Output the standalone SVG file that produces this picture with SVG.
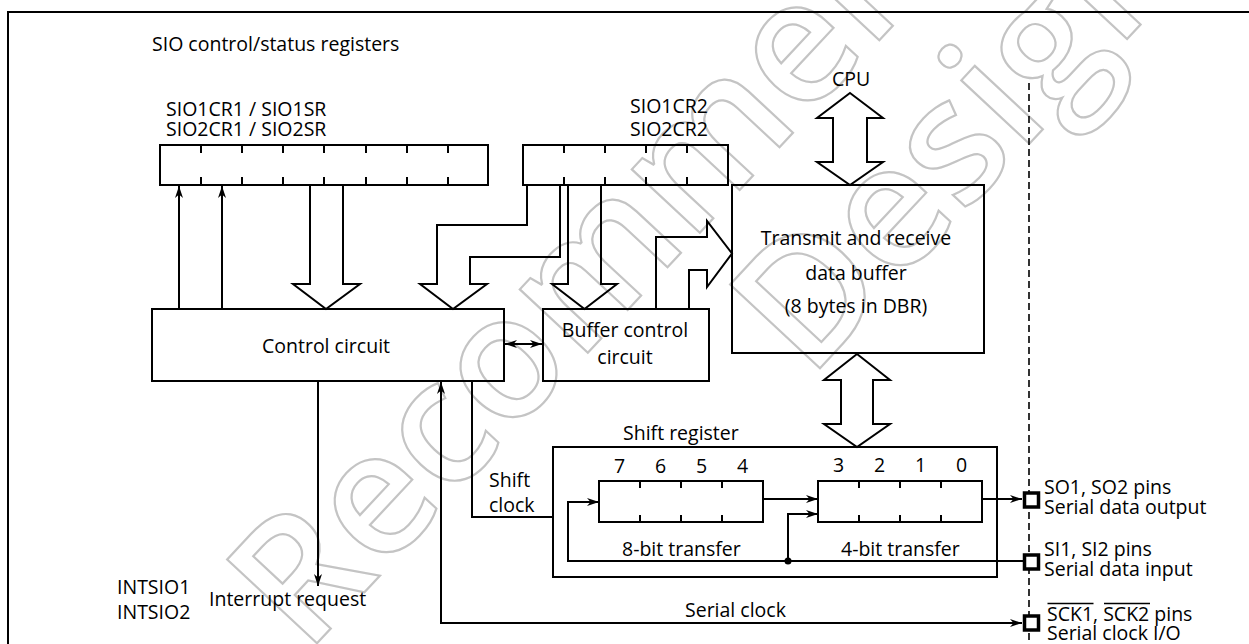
<svg xmlns="http://www.w3.org/2000/svg" width="1249" height="644" viewBox="0 0 1249 644">
<style>
text{font-family:"Open Sans","Noto Sans","DejaVu Sans",sans-serif;font-size:19.5px;fill:#000}
.m{text-anchor:middle}
.ln{fill:none;stroke:#000;stroke-width:2}
.wm{font-family:"Open Sans","Noto Sans",sans-serif;font-size:172px;font-weight:600;fill:none;stroke:#c4c4c4;stroke-width:2.2}
.pin{fill:#fff;stroke:#000;stroke-width:3.5}
</style>
<defs>
<marker id="ah" viewBox="0 0 12 8" refX="12" refY="4" markerWidth="12" markerHeight="8" markerUnits="userSpaceOnUse" orient="auto-start-reverse"><path d="M0,0 L12,4 L0,8 L3.5,4 z" fill="#000"/></marker>
</defs>
<rect width="1249" height="644" fill="#fff"/>
<g id="watermark">
<text class="wm" transform="translate(306,655) rotate(-47)">Recommended</text>
<text class="wm" transform="translate(809,380) rotate(-47)">Design</text>
</g>
<rect id="frame" x="8" y="12" width="1300" height="700" class="ln"/>
<text x="152" y="51">SIO control/status registers</text>
<g id="reg1">
<text x="166" y="116">SIO1CR1 / SIO1SR</text>
<text x="166" y="136">SIO2CR1 / SIO2SR</text>
<rect x="160" y="145" width="328" height="40" class="ln"/>
<path class="ln" d="M201,145v8M242,145v8M283,145v8M324,145v8M366,145v8M407,145v8M448,145v8M201,185v-8M242,185v-8M283,185v-8M324,185v-8M366,185v-8M407,185v-8M448,185v-8"/>
</g>
<g id="reg2">
<text x="630" y="113">SIO1CR2</text>
<text x="630" y="136">SIO2CR2</text>
<rect x="523" y="145" width="205" height="40" class="ln"/>
<path class="ln" d="M564,145v8M605,145v8M646,145v8M687,145v8M564,185v-8M605,185v-8M646,185v-8M687,185v-8"/>
</g>
<g id="cpu"><text x="832" y="86">CPU</text></g>
<g id="databuffer">
<rect x="732" y="185" width="252" height="168" class="ln"/>
<text class="m" x="856" y="245">Transmit and receive</text>
<text class="m" x="856" y="280">data buffer</text>
<text class="m" x="856" y="313">(8 bytes in DBR)</text>
</g>
<g id="control">
<rect x="152" y="309" width="352" height="72" class="ln"/>
<text class="m" x="326" y="353">Control circuit</text>
</g>
<g id="bufctrl">
<rect x="543" y="309" width="166" height="72" class="ln"/>
<text class="m" x="625" y="337">Buffer control</text>
<text class="m" x="625" y="364">circuit</text>
</g>
<g id="shiftreg">
<text x="623" y="440">Shift register</text>
<rect x="553" y="447" width="444" height="130" class="ln"/>
<rect x="599" y="481" width="164" height="41" class="ln"/>
<path class="ln" d="M640,481v7M681,481v7M722,481v7M640,522v-7M681,522v-7M722,522v-7"/>
<rect x="818" y="481" width="164" height="41" class="ln"/>
<path class="ln" d="M859,481v7M900,481v7M941,481v7M859,522v-7M900,522v-7M941,522v-7"/>
<text class="m" x="619.5" y="473">7</text>
<text class="m" x="660.5" y="473">6</text>
<text class="m" x="701.5" y="473">5</text>
<text class="m" x="742.5" y="473">4</text>
<text class="m" x="838.5" y="472">3</text>
<text class="m" x="879.5" y="472">2</text>
<text class="m" x="920.5" y="472">1</text>
<text class="m" x="961.5" y="472">0</text>
<text x="622" y="556">8-bit transfer</text>
<text x="841" y="556">4-bit transfer</text>
</g>
<g id="connectors">
<path class="ln" marker-end="url(#ah)" d="M179,309V186"/>
<path class="ln" marker-end="url(#ah)" d="M222,309V186"/>
<path class="ln" d="M310,185V284H293L326,309L360,284H343V185"/>
<path class="ln" d="M527,185V225H437V284H420L453,309L487,284H470V257H560V185"/>
<path class="ln" d="M568,185V284H552L584.5,309L617,284H601V185"/>
<path class="ln" d="M656,309V237H707V221L732,253.5L707,287V270H689V309"/>
<path class="ln" d="M850,93L883,118H867V162H883L850,185L817,162H833V118H817Z"/>
<path class="ln" d="M857,354L890,380H873V424H890L857,447L824,424H841V380H824Z"/>
<path class="ln" marker-start="url(#ah)" marker-end="url(#ah)" d="M505,344H542"/>
<path class="ln" marker-end="url(#ah)" d="M318,381V586"/>
<path class="ln" d="M472,381V517H553"/>
<path class="ln" marker-start="url(#ah)" marker-end="url(#ah)" d="M1022,623H441V382"/>
<path class="ln" marker-end="url(#ah)" d="M763,499H818"/>
<path class="ln" marker-end="url(#ah)" d="M1023,561H568V502H599"/>
<path class="ln" marker-end="url(#ah)" d="M788,561V514H818"/>
<circle cx="788" cy="561" r="3.5" fill="#000"/>
<path class="ln" marker-end="url(#ah)" d="M982,499H1022"/>
<path d="M1029,83V644" fill="none" stroke="#000" stroke-width="1.6" stroke-dasharray="7,4"/>
</g>
<g id="interrupt">
<text x="117" y="594">INTSIO1</text>
<text x="117" y="619">INTSIO2</text>
<text x="209" y="606">Interrupt request</text>
</g>
<text x="489" y="487">Shift</text>
<text x="489" y="512">clock</text>
<text x="685" y="617">Serial clock</text>
<g id="pin-so">
<rect x="1024.5" y="493" width="14" height="14" class="pin"/>
<text x="1044" y="494">SO1, SO2 pins</text>
<text x="1044" y="514">Serial data output</text>
</g>
<g id="pin-si">
<rect x="1024.5" y="555" width="14" height="14" class="pin"/>
<text x="1044" y="556">SI1, SI2 pins</text>
<text x="1044" y="576">Serial data input</text>
</g>
<g id="pin-sck">
<rect x="1024.5" y="616" width="14" height="14" class="pin"/>
<text x="1047" y="621">SCK1, SCK2 pins</text>
<path d="M1047.5,603.5H1093.5M1104,603.5H1150" fill="none" stroke="#000" stroke-width="1.5"/>
<text x="1047" y="640">Serial clock I/O</text>
</g>
</svg>
